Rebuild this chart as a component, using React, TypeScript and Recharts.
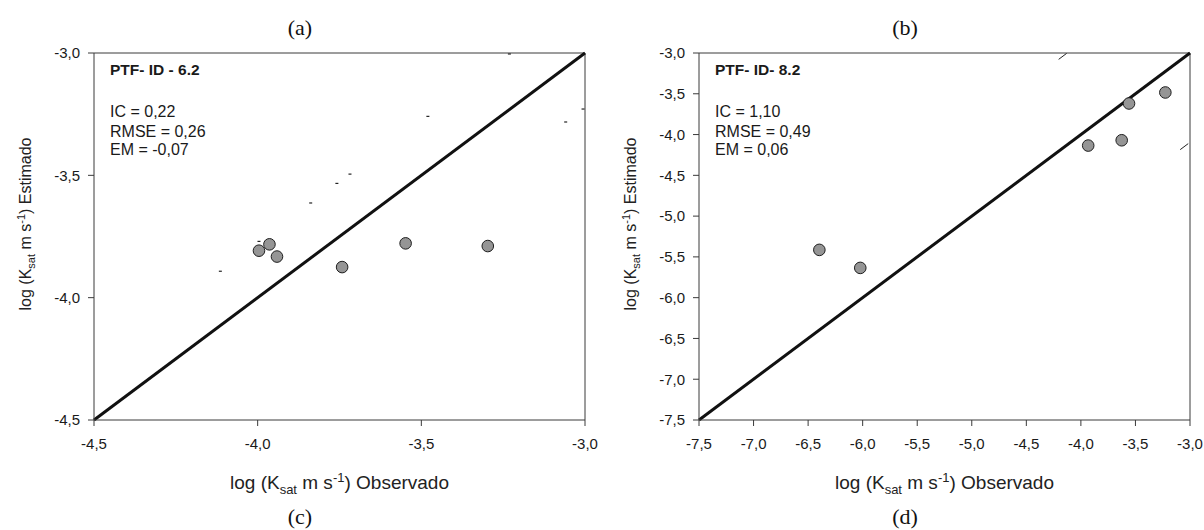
import React from 'react';
import { ScatterChart, Scatter, XAxis, YAxis, ReferenceLine, Label } from 'recharts';

// ---- Panel (a)/(c): PTF-ID 6.2 ----
const ticksA = [-4.5, -4.0, -3.5, -3.0];
const obsA = [-3.996, -3.964, -3.941, -3.742, -3.548, -3.297];
const estA = [-3.808, -3.782, -3.832, -3.875, -3.778, -3.789];
const markObsA = [-3.48, -3.059, -3.718, -3.758, -3.838, -4.114, -3.996, -3.231, -3.006];
const markEstA = [-3.259, -3.282, -3.495, -3.533, -3.613, -3.892, -3.77, -3.004, -3.229];
const statsA = ['PTF- ID - 6.2', 'IC = 0,22', 'RMSE = 0,26', 'EM = -0,07'];

// ---- Panel (b)/(d): PTF-ID 8.2 ----
const ticksB = [-7.5, -7.0, -6.5, -6.0, -5.5, -5.0, -4.5, -4.0, -3.5, -3.0];
const obsB = [-3.226, -3.559, -3.933, -3.626, -6.397, -6.022];
const estB = [-3.484, -3.619, -4.135, -4.07, -5.414, -5.635];
const markObsB = [-4.167, -3.053];
const markEstB = [-3.041, -4.148];
const statsB = ['PTF- ID- 8.2', 'IC = 1,10', 'RMSE = 0,49', 'EM = 0,06'];

const topLabels = ['(a)', '(b)'];
const bottomLabels = ['(c)', '(d)'];

const SANS = '"Liberation Sans", Arial, sans-serif';
const SERIF = '"Liberation Serif", "Times New Roman", serif';
const fmt = (v: number) => v.toFixed(1).replace('.', ',');
const toPts = (xs: number[], ys: number[]) => xs.map((x, i) => ({ x, y: ys[i] }));

const W = 600;
const H = 530;
const PLOT_LEFT = 94;
const PLOT_RIGHT = 585;
const PLOT_TOP = 53;
const PLOT_BOTTOM = 420;
const YAXIS_W = 60;
const XAXIS_H = 40;

const Dot = (p: any) => (
  <circle cx={p.cx} cy={p.cy} r={5.8} fill="#959595" stroke="#1e1e1e" strokeWidth={1} />
);
const Tick = (p: any) => (
  <line x1={p.cx - 1.5} y1={p.cy} x2={p.cx + 1.5} y2={p.cy} stroke="#222" strokeWidth={1.2} />
);
const Slash = (p: any) => (
  <line x1={p.cx - 4} y1={p.cy + 3} x2={p.cx + 4} y2={p.cy - 3} stroke="#222" strokeWidth={1} />
);

function XTitle(props: any) {
  const vb = props.viewBox;
  const cx = vb.x + vb.width / 2;
  return (
    <text x={cx} y={vb.y + 69} textAnchor="middle" fontFamily={SANS} fontSize={19} fill="#222">
      log (K
      <tspan fontSize={13} dy={5}>sat</tspan>
      <tspan dy={-5}> m s</tspan>
      <tspan fontSize={13} dy={-7}>-1</tspan>
      <tspan dy={7}>) Observado</tspan>
    </text>
  );
}

function YTitle(props: any) {
  const vb = props.viewBox;
  const bx = vb.x + vb.width - 63; // ~31 for left chart
  const cy = 224;
  return (
    <text
      x={bx}
      y={cy}
      transform={`rotate(-90, ${bx}, ${cy})`}
      textAnchor="middle"
      fontFamily={SANS}
      fontSize={16}
      fill="#222"
    >
      log (K
      <tspan fontSize={11} dy={4}>sat</tspan>
      <tspan dy={-4}> m s</tspan>
      <tspan fontSize={11} dy={-6}>-1</tspan>
      <tspan dy={6}>) Estimado</tspan>
    </text>
  );
}

function makeStats(lines: string[]) {
  return (props: any) => {
    const vb = props.viewBox;
    const x = vb.x + 16;
    const y = vb.y;
    return (
      <g fontFamily={SANS} fill="#1a1a1a">
        <text x={x} y={y + 22} fontSize={15.5} fontWeight="bold">{lines[0]}</text>
        <text x={x} y={y + 63.5} fontSize={16}>{lines[1]}</text>
        <text x={x} y={y + 83.5} fontSize={16}>{lines[2]}</text>
        <text x={x} y={y + 102} fontSize={16}>{lines[3]}</text>
      </g>
    );
  };
}

function Panel(props: {
  ticks: number[];
  obs: number[];
  est: number[];
  mObs: number[];
  mEst: number[];
  stats: string[];
  slash?: boolean;
  top: string;
  bottom: string;
}) {
  const { ticks } = props;
  const lo = ticks[0];
  const hi = ticks[ticks.length - 1];
  const axisStyle = { fill: '#1a1a1a', fontSize: 15, fontFamily: SANS };
  const letterStyle: React.CSSProperties = {
    position: 'absolute',
    left: 0,
    width: 600,
    textAlign: 'center',
    fontFamily: SERIF,
    fontSize: 22,
    lineHeight: '22px',
    color: '#111',
  };
  return (
    <div style={{ position: 'relative', width: W, height: H }}>
      <ScatterChart
        width={W}
        height={H}
        margin={{ top: PLOT_TOP, right: W - PLOT_RIGHT, bottom: H - PLOT_BOTTOM - XAXIS_H, left: PLOT_LEFT - YAXIS_W }}
      >
        <XAxis
          type="number"
          dataKey="x"
          domain={[lo, hi]}
          ticks={ticks}
          allowDataOverflow
          tickFormatter={fmt}
          height={XAXIS_H}
          tickSize={6}
          tickMargin={12}
          stroke="#3a3a3a"
          tick={axisStyle}
          interval={0}
        >
          <Label content={XTitle} />
        </XAxis>
        <YAxis
          type="number"
          dataKey="y"
          domain={[lo, hi]}
          ticks={ticks}
          allowDataOverflow
          tickFormatter={fmt}
          width={YAXIS_W}
          tickSize={6}
          tickMargin={8}
          stroke="#3a3a3a"
          tick={axisStyle}
          interval={0}
        >
          <Label content={YTitle} />
        </YAxis>
        <ReferenceLine y={hi} stroke="#3a3a3a" strokeWidth={1}>
          <Label content={makeStats(props.stats)} />
        </ReferenceLine>
        <ReferenceLine x={hi} stroke="#3a3a3a" strokeWidth={1} />
        <ReferenceLine
          segment={[{ x: lo, y: lo }, { x: hi, y: hi }]}
          stroke="#111"
          strokeWidth={3}
        />
        <Scatter
          data={toPts(props.mObs, props.mEst)}
          shape={props.slash ? Slash : Tick}
          isAnimationActive={false}
        />
        <Scatter data={toPts(props.obs, props.est)} shape={Dot} isAnimationActive={false} />
      </ScatterChart>
      <div style={{ ...letterStyle, top: 17 }}>{props.top}</div>
      <div style={{ ...letterStyle, top: 506 }}>{props.bottom}</div>
    </div>
  );
}

export default function App() {
  return (
    <div style={{ position: 'absolute', left: 0, top: 0, width: 1204, height: 530, background: '#fff', overflow: 'hidden' }}>
      <div style={{ position: 'absolute', left: 0, top: 0 }}>
        <Panel
          ticks={ticksA}
          obs={obsA}
          est={estA}
          mObs={markObsA}
          mEst={markEstA}
          stats={statsA}
          top={topLabels[0]}
          bottom={bottomLabels[0]}
        />
      </div>
      <div style={{ position: 'absolute', left: 605, top: 0 }}>
        <Panel
          ticks={ticksB}
          obs={obsB}
          est={estB}
          mObs={markObsB}
          mEst={markEstB}
          stats={statsB}
          slash
          top={topLabels[1]}
          bottom={bottomLabels[1]}
        />
      </div>
    </div>
  );
}
